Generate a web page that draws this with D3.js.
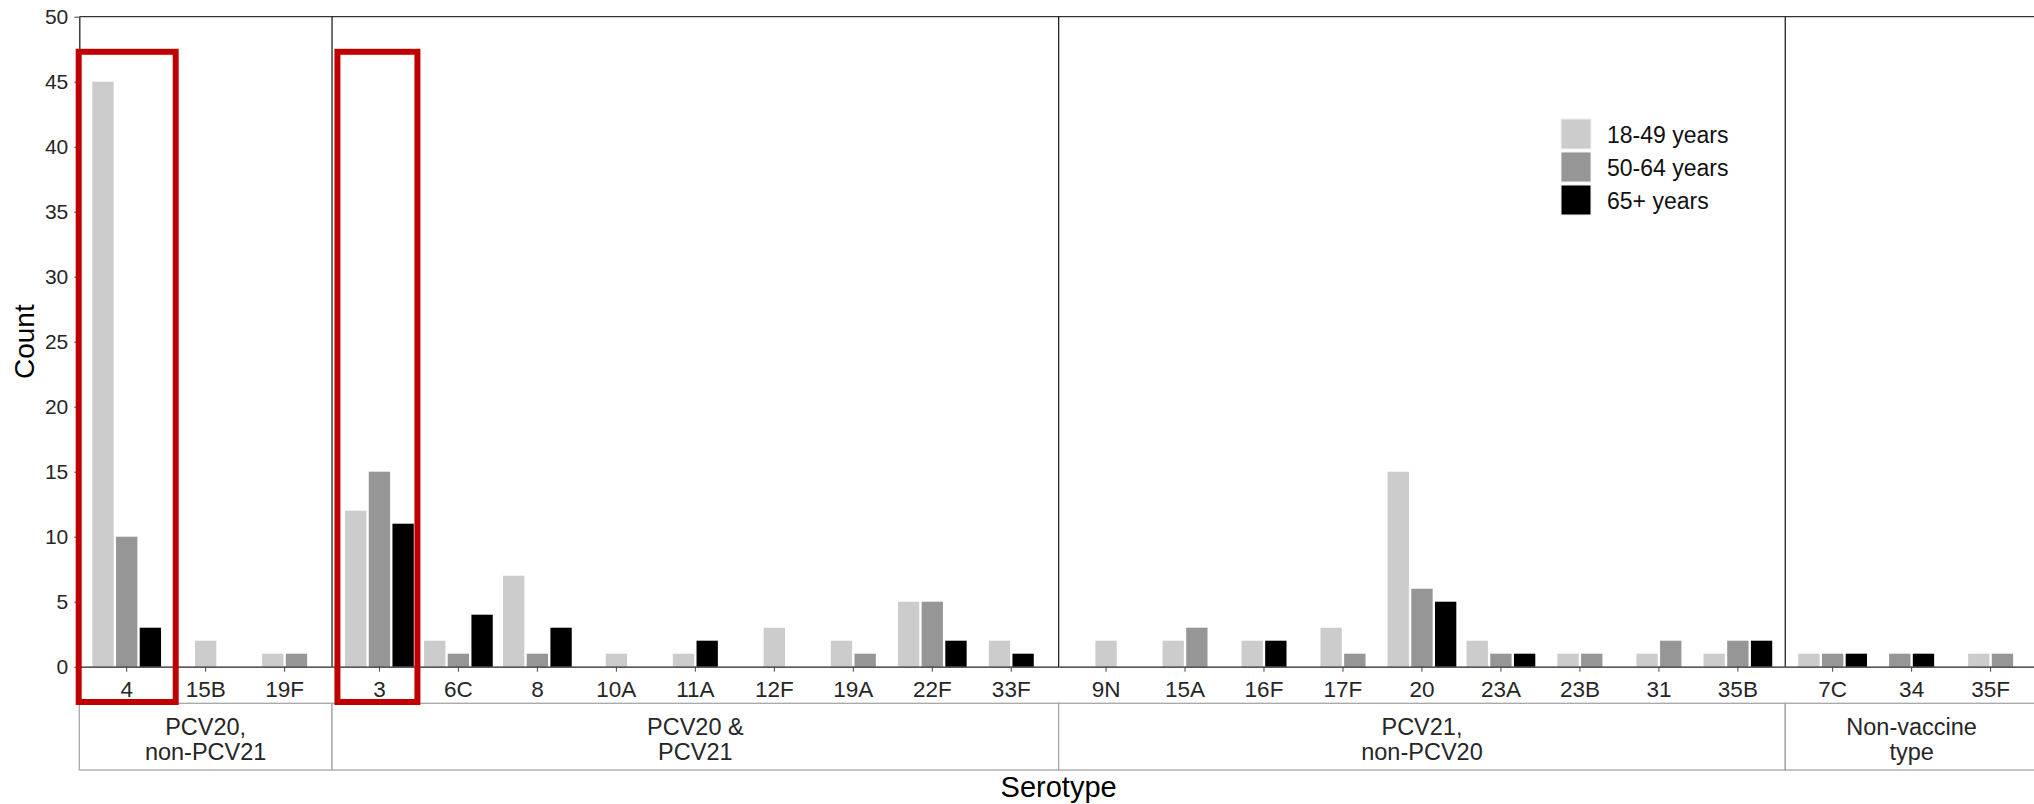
<!DOCTYPE html>
<html>
<head>
<meta charset="utf-8">
<script src="https://cdn.jsdelivr.net/npm/d3@7"></script>
<style>
  body { margin: 0; background: #fff; }
  svg { display: block; font-family: "Liberation Sans", Arial, sans-serif; }
</style>
</head>
<body>
<svg id="chart"></svg>
<script>
// serotype counts by age group, grouped by vaccine coverage
var panelLabels = [["PCV20,", "non-PCV21"], ["PCV20 &", "PCV21"], ["PCV21,", "non-PCV20"], ["Non-vaccine", "type"]];
var serotypes = ["4", "15B", "19F", "3", "6C", "8", "10A", "11A", "12F", "19A", "22F", "33F",
  "9N", "15A", "16F", "17F", "20", "23A", "23B", "31", "35B", "7C", "34", "35F"];
var serotypePanel = [0, 0, 0, 1, 1, 1, 1, 1, 1, 1, 1, 1, 2, 2, 2, 2, 2, 2, 2, 2, 2, 3, 3, 3];
var ageGroups = ["18-49 years", "50-64 years", "65+ years"];
var age18to49 = [45, 2, 1, 12, 2, 7, 1, 1, 3, 2, 5, 2, 2, 2, 2, 3, 15, 2, 1, 1, 1, 1, null, 1];
var age50to64 = [10, null, 1, 15, 1, 1, null, null, null, 1, 5, null, null, 3, null, 1, 6, 1, 1, 2, 2, 1, 1, 1];
var age65plus = [3, null, null, 11, 4, 3, null, 2, null, null, 2, 1, null, null, 2, null, 5, 1, null, null, 2, 1, 1, null];
var yTicks = [0, 5, 10, 15, 20, 25, 30, 35, 40, 45, 50];
var highlighted = ["4", "3"];

var colors = ["#cccccc", "#969696", "#000000"];
var series = [age18to49, age50to64, age65plus];

var svgWidth = 2034, svgHeight = 804;
var plotLeft = 79.3, plotRight = 2038, plotTop = 16.7, plotBottom = 666.7;

var svg = d3.select("#chart")
  .attr("width", svgWidth)
  .attr("height", svgHeight);

// panel widths follow the number of serotypes (+0.2 for the outer padding)
var panels = panelLabels.map(function (lab, p) {
  return { label: lab, cats: serotypes.filter(function (s, i) { return serotypePanel[i] === p; }) };
});
var totalUnits = d3.sum(panels, function (p) { return p.cats.length + 0.2; });
var unit = (plotRight - plotLeft) / totalUnits;
var xStart = plotLeft;
panels.forEach(function (p) {
  p.x0 = xStart;
  p.x1 = xStart + unit * (p.cats.length + 0.2);
  p.scale = d3.scaleBand().domain(p.cats).range([p.x0, p.x1]).paddingInner(0).paddingOuter(0.1);
  xStart = p.x1;
});

function xCenter(name) {
  var p = panels[serotypePanel[serotypes.indexOf(name)]];
  return p.scale(name) + p.scale.bandwidth() / 2;
}

var y = d3.scaleLinear().domain([0, 50]).range([plotBottom, plotTop]);

// bars: present age groups are centred on the serotype (dodge2, preserve single)
var slot = unit * 0.9 / 3;
var bars = [];
serotypes.forEach(function (s, i) {
  var present = [0, 1, 2].filter(function (g) { return series[g][i] != null; });
  var c = xCenter(s);
  var sub = d3.scaleBand().domain(present)
    .range([c - present.length * slot / 2, c + present.length * slot / 2])
    .paddingInner(0.1).paddingOuter(0.05);
  present.forEach(function (g) {
    bars.push({ x: sub(g), w: sub.bandwidth(), value: series[g][i], group: g });
  });
});

svg.append("g").selectAll("rect")
  .data(bars)
  .enter()
  .append("rect")
  .attr("x", function (d) { return d.x; })
  .attr("y", function (d) { return y(d.value); })
  .attr("width", function (d) { return d.w; })
  .attr("height", function (d) { return y(0) - y(d.value); })
  .attr("fill", function (d) { return colors[d.group]; });

// panel frame: top line and dividers
svg.append("line")
  .attr("x1", plotLeft).attr("x2", plotRight)
  .attr("y1", y(50)).attr("y2", y(50))
  .attr("stroke", "#333").attr("stroke-width", 1.3);

svg.append("g").selectAll("line")
  .data(panels.slice(1))
  .enter()
  .append("line")
  .attr("x1", function (p) { return p.x0; })
  .attr("x2", function (p) { return p.x0; })
  .attr("y1", y(50)).attr("y2", y(0))
  .attr("stroke", "#222").attr("stroke-width", 1.3);

// y axis
var yAxis = svg.append("g")
  .attr("transform", "translate(" + plotLeft + ",0)")
  .call(d3.axisLeft(y).tickValues(yTicks).tickSize(5).tickSizeOuter(0).tickPadding(6));
yAxis.select(".domain").attr("stroke", "#222").attr("stroke-width", 1.3);
yAxis.selectAll(".tick line").attr("stroke", "#444");
yAxis.selectAll("text").attr("font-size", 21).attr("fill", "#262626");

// x axis per panel
panels.forEach(function (p) {
  var g = svg.append("g")
    .attr("transform", "translate(0," + plotBottom + ")")
    .call(d3.axisBottom(p.scale).tickSize(5).tickSizeOuter(0).tickPadding(9));
  g.select(".domain").attr("stroke", "#222").attr("stroke-width", 1.3);
  g.selectAll(".tick line").attr("stroke", "#444");
  g.selectAll("text").attr("font-size", 22.5).attr("fill", "#262626");
});

// strips below the tick labels
var strips = svg.append("g").selectAll("g")
  .data(panels)
  .enter()
  .append("g");

strips.append("rect")
  .attr("x", function (p) { return p.x0; })
  .attr("y", 703.3)
  .attr("width", function (p) { return p.x1 - p.x0; })
  .attr("height", 66.7)
  .attr("fill", "#fff")
  .attr("stroke", "#a6a6a6")
  .attr("stroke-width", 1.3);

strips.append("text")
  .attr("y", 735)
  .attr("text-anchor", "middle")
  .attr("font-size", 23.5)
  .attr("fill", "#262626")
  .selectAll("tspan")
  .data(function (p) { return p.label.map(function (t) { return { t: t, cx: (p.x0 + p.x1) / 2 }; }); })
  .enter()
  .append("tspan")
  .attr("x", function (d) { return d.cx; })
  .attr("dy", function (d, i) { return i === 0 ? 0 : 25; })
  .text(function (d) { return d.t; });

// axis titles
svg.append("text")
  .attr("transform", "translate(24," + ((plotTop + plotBottom) / 2) + ") rotate(-90)")
  .attr("text-anchor", "middle")
  .attr("dominant-baseline", "central")
  .attr("font-size", 28)
  .attr("fill", "#000")
  .text("Count");

svg.append("text")
  .attr("x", (plotLeft + plotRight) / 2)
  .attr("y", 797)
  .attr("text-anchor", "middle")
  .attr("font-size", 29)
  .attr("fill", "#000")
  .text("Serotype");

// legend
var legend = svg.append("g")
  .attr("transform", "translate(1561,119)");
var items = legend.selectAll("g")
  .data(ageGroups)
  .enter()
  .append("g")
  .attr("transform", function (d, i) { return "translate(0," + i * 33 + ")"; });
items.append("rect")
  .attr("width", 30).attr("height", 30)
  .attr("fill", function (d, i) { return colors[i]; })
  .attr("stroke", "#f2f2f2");
items.append("text")
  .attr("x", 46).attr("y", 16)
  .attr("dominant-baseline", "central")
  .attr("font-size", 23)
  .attr("fill", "#111")
  .text(function (d) { return d; });

// red highlight boxes around serotypes 4 and 3
var boxPad = [[48, 49], [42, 38]];
svg.append("g").selectAll("rect")
  .data(highlighted)
  .enter()
  .append("rect")
  .attr("x", function (d, i) { return xCenter(d) - boxPad[i][0]; })
  .attr("y", y(47.3))
  .attr("width", function (d, i) { return boxPad[i][0] + boxPad[i][1]; })
  .attr("height", function () { return plotBottom + 35.3 - y(47.3); })
  .attr("fill", "none")
  .attr("stroke", "#c00000")
  .attr("stroke-width", 6);
</script>
</body>
</html>
